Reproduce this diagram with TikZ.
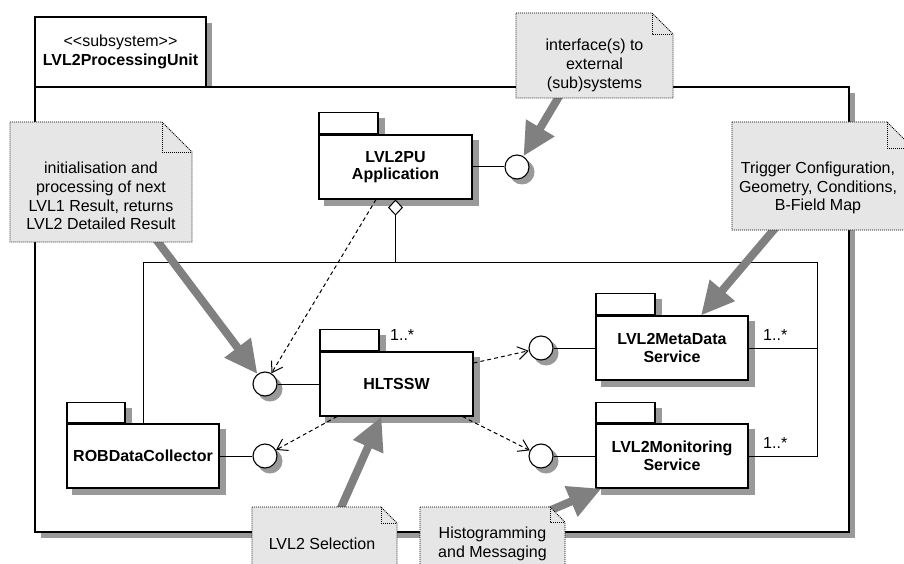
\documentclass[tikz,border=0pt]{standalone}
\usepackage{fontspec}
\newfontfamily\umlfont{Liberation Sans}
\usetikzlibrary{arrows.meta}
\pgfdeclarelayer{background}
\pgfdeclarelayer{shade}
\pgfsetlayers{background,shade,main}
\definecolor{notefill}{RGB}{230,230,230}
\definecolor{shadowgray}{RGB}{153,153,153}
\definecolor{linkgray}{RGB}{128,128,128}

\begin{document}
\begin{tikzpicture}[x=1pt,y=-1pt,line join=miter,
  font=\umlfont\fontsize{16}{18.7}\selectfont,
  frame/.style={draw,line width=1.1pt,fill=white},
  pkgtab/.style={frame,rectangle,minimum width=59pt,minimum height=21pt,inner sep=0pt,anchor=south west},
  pkgbody/.style={frame,rectangle,minimum width=153pt,minimum height=64pt,inner sep=0pt,
    align=center,font=\umlfont\bfseries\fontsize{16}{17.5}\selectfont},
  ifc/.style={circle,draw,line width=1.1pt,fill=white,minimum size=24pt,inner sep=0pt},
  wire/.style={line width=1pt},
  aggr/.style={line width=1pt},
  dep/.style={line width=1pt,dash pattern=on 4pt off 3pt,-{Straight Barb[length=10pt,width=13pt]}},
  notebox/.style={fill=notefill,draw,line width=0.9pt,dash pattern=on 1pt off 1pt},
  notetext/.style={inner sep=0pt,align=center},
  notelink/.style={draw=linkgray,line width=8pt,-{Triangle[length=33pt,width=31pt]}},
  mult/.style={anchor=base west,inner sep=0pt}]
\useasboundingbox (0,0) rectangle (904,564);

% subsystem frame
\begin{pgfonlayer}{background}
\fill[shadowgray] (41,23) rectangle (212,93);
\fill[shadowgray] (41,93) rectangle (855,538);
\draw[frame] (35,17) rectangle (206,87);
\draw[frame] (35,87) rectangle (849,532);
\end{pgfonlayer}
\node[align=center] (putitle) at (120.5,52) {<<subsystem>>\\\textbf{LVL2ProcessingUnit}};

% packages
\node[pkgbody] (app) at (395.5,167) {LVL2PU\\Application};
\node[pkgtab] (appTab) at (app.north west) {};
\node[pkgbody] (hltssw) at (396.5,384) {HLTSSW};
\node[pkgtab] (hltsswTab) at (hltssw.north west) {};
\node[pkgbody,minimum width=152pt] (rob) at (143,456) {ROBDataCollector};
\node[pkgtab,minimum width=58pt,minimum height=20pt] (robTab) at (rob.north west) {};
\node[pkgbody,minimum width=152pt] (meta) at (672,348) {LVL2MetaData\\Service};
\node[pkgtab] (metaTab) at (meta.north west) {};
\node[pkgbody,minimum width=152pt] (mon) at (672,456) {LVL2Monitoring\\Service};
\node[pkgtab,minimum height=20pt] (monTab) at (mon.north west) {};

% interfaces
\node[ifc] (appIfc) at (517,167) {};
\node[ifc] (hltIfc) at (265,384) {};
\node[ifc] (robIfc) at (265,456) {};
\node[ifc] (metaIfc) at (541,348) {};
\node[ifc] (monIfc) at (541,456) {};

% shadows
\begin{pgfonlayer}{shade}
\foreach \n in {app,appTab,hltssw,hltsswTab,rob,robTab,meta,metaTab,mon,monTab}
  \fill[shadowgray] ([shift={(6pt,-6pt)}]\n.south west) rectangle ([shift={(6pt,-6pt)}]\n.north east);
\foreach \n in {appIfc,hltIfc,robIfc,metaIfc,monIfc}
  \fill[shadowgray] ([shift={(5pt,-5pt)}]\n.center) circle[radius=12.5pt];
\end{pgfonlayer}

\draw[wire] (app) -- (appIfc);
\draw[wire] (hltIfc) -- (hltssw);
\draw[wire] (rob) -- (robIfc);
\draw[wire] (metaIfc) -- (meta);
\draw[wire] (monIfc) -- (mon);

% aggregation
\coordinate (aggrCorner) at (817,262);
\draw[aggr] (rob.north) |- (aggrCorner) |- (mon.east);
\draw[aggr] (aggrCorner |- meta.east) -- (meta.east);
\draw[aggr,{Diamond[length=16pt,width=15pt,fill=white,line width=1pt]}-] (app.south) -- (app.south |- aggrCorner);
\node[mult] (hltMult) at (390,340) {1..*};
\node[mult] (metaMult) at (763,340) {1..*};
\node[mult] (monMult) at (763,448) {1..*};

% usage
\draw[dep] ([xshift=-19.5pt]app.south) -- (hltIfc);
\draw[dep] ([xshift=-59.5pt]hltssw.south) -- (robIfc);
\draw[dep] ([yshift=21pt]hltssw.east) -- (metaIfc);
\draw[dep] ([xshift=66pt]hltssw.south) -- (monIfc);

% note links
\draw[notelink] (155,238) coordinate (initFoot) -- (hltIfc);
\draw[notelink] (560.5,94) coordinate (ifcFoot) -- (appIfc);
\draw[notelink] (777,226) coordinate (cfgFoot) -- ([xshift=29pt]meta.north);
\draw[notelink] (339.5,511) coordinate (selFoot) -- ([xshift=-15pt]hltssw.south);
\draw[notelink] (537,516) coordinate (msgFoot) -- ([xshift=6pt]mon.south west);

% notes
\draw[notebox] (10,122) -- (162,122) -- (192,152) -- (192,242) -- (10,242) -- cycle;
\draw[notebox,fill=none] (162,122) |- (192,152);
\node[notetext,minimum width=182pt,minimum height=90pt] (initnote) at (101,196)
  {initialisation and\\processing of next\\LVL1 Result, returns\\LVL2 Detailed Result};
\draw[notebox] (516,13) -- (652,13) -- (673,34) -- (673,98) -- (516,98) -- cycle;
\draw[notebox,fill=none] (652,13) |- (673,34);
\node[notetext,minimum width=157pt,minimum height=64pt] (ifcnote) at (594.5,65.5)
  {interface(s) to\\external\\(sub)systems};
\draw[notebox] (732,122) -- (887,122) -- (913,148) -- (913,230) -- (732,230) -- cycle;
\draw[notebox,fill=none] (887,122) |- (913,148);
\node[notetext,minimum width=172pt,minimum height=82pt] (cfgnote) at (818,188)
  {Trigger Configuration,\\Geometry, Conditions,\\B-Field Map};
\draw[notebox] (252,507) -- (381,507) -- (397,523) -- (397,570) -- (252,570) -- cycle;
\draw[notebox,fill=none] (381,507) |- (397,523);
\node[notetext,minimum width=145pt,minimum height=42pt] (selnote) at (322,544) {LVL2 Selection};
\draw[notebox] (420,507) -- (550,507) -- (565,522) -- (565,570) -- (420,570) -- cycle;
\draw[notebox,fill=none] (550,507) |- (565,522);
\node[notetext,minimum width=145pt,minimum height=44pt] (msgnote) at (492.5,544) {Histogramming\\and Messaging};
\end{tikzpicture}
\end{document}
